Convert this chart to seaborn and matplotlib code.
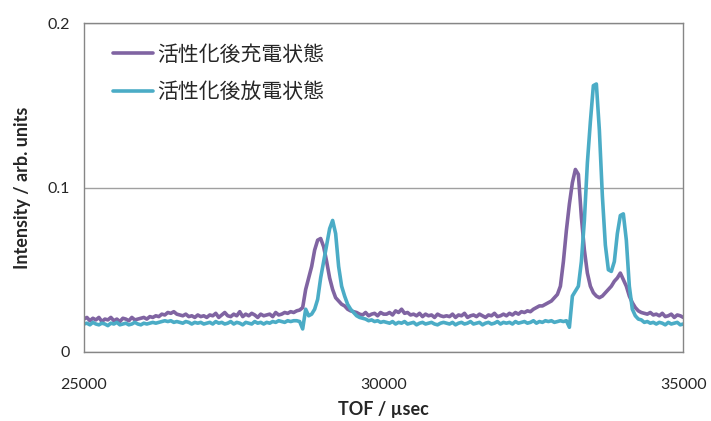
import numpy as np
import pandas as pd
import seaborn as sns
from matplotlib import pyplot as plt

# TOF grid, 50 usec steps
tof = list(range(25000, 35001, 50))

charged = [
    0.020, 0.021, 0.019, 0.0205, 0.0195, 0.021, 0.0185, 0.020, 0.0195, 0.021, 0.019,
    0.020, 0.0185, 0.0205, 0.020, 0.019, 0.021, 0.0195, 0.020, 0.0205, 0.021,
    0.020, 0.0215, 0.021, 0.022, 0.0215, 0.023, 0.0225, 0.024, 0.0235, 0.0245,
    0.023, 0.0225, 0.022, 0.023, 0.0215, 0.022, 0.021, 0.0225, 0.0215, 0.022,
    0.021, 0.0225, 0.022, 0.0235, 0.021, 0.0225, 0.024, 0.022, 0.0215, 0.023,
    0.022, 0.0245, 0.0215, 0.023, 0.022, 0.0235, 0.0225, 0.021, 0.023, 0.022,
    0.0225, 0.023, 0.0215, 0.024, 0.0225, 0.023, 0.024, 0.0235, 0.0245, 0.024,
    0.025, 0.0255, 0.027, 0.038, 0.045, 0.052, 0.062, 0.068, 0.069, 0.064,
    0.055, 0.045, 0.038, 0.033, 0.031, 0.029, 0.028, 0.026, 0.025, 0.0245,
    0.024, 0.023, 0.0225, 0.024, 0.022, 0.023, 0.0235, 0.022, 0.024, 0.023,
    0.023, 0.024, 0.0225, 0.025, 0.024, 0.026, 0.0235, 0.024, 0.0225, 0.023,
    0.022, 0.0235, 0.0215, 0.023, 0.022, 0.0225, 0.021, 0.023, 0.022, 0.0215,
    0.022, 0.0215, 0.023, 0.021, 0.0225, 0.022, 0.0235, 0.021, 0.022, 0.0225,
    0.0215, 0.023, 0.022, 0.021, 0.0225, 0.022, 0.0235, 0.0215, 0.022, 0.023,
    0.022, 0.0235, 0.0225, 0.024, 0.023, 0.0245, 0.024, 0.025, 0.0245, 0.026, 0.027, 0.028,
    0.028, 0.029, 0.030, 0.031, 0.033, 0.035, 0.040, 0.055,
    0.074, 0.090, 0.103, 0.111, 0.108, 0.082, 0.062, 0.048, 0.040, 0.036,
    0.034, 0.033, 0.034, 0.036, 0.038, 0.040, 0.043, 0.045, 0.048, 0.044,
    0.040, 0.034, 0.030, 0.027, 0.025, 0.024, 0.0235, 0.023, 0.024, 0.0225,
    0.023, 0.022, 0.0235, 0.0215, 0.022, 0.023, 0.021, 0.0225, 0.022, 0.021,
]

discharged = [
    0.017, 0.0175, 0.0165, 0.018, 0.017, 0.0165, 0.0175, 0.017, 0.016, 0.0175, 0.017,
    0.018, 0.0165, 0.017, 0.0175, 0.0165, 0.017, 0.018, 0.017, 0.0165, 0.0175,
    0.017, 0.0175, 0.018, 0.0175, 0.018, 0.0185, 0.019, 0.0185, 0.019, 0.018,
    0.0185, 0.018, 0.0175, 0.0185, 0.018, 0.017, 0.018, 0.0175, 0.018, 0.017,
    0.0175, 0.018, 0.017, 0.0185, 0.0175, 0.018, 0.017, 0.0175, 0.0185, 0.017,
    0.018, 0.0175, 0.0165, 0.018, 0.0175, 0.017, 0.0185, 0.0175, 0.018, 0.017,
    0.018, 0.0175, 0.0185, 0.018, 0.019, 0.0185, 0.018, 0.019, 0.0185, 0.019,
    0.019, 0.0185, 0.014, 0.026, 0.022, 0.023, 0.026, 0.032, 0.045, 0.055,
    0.065, 0.075, 0.080, 0.072, 0.052, 0.040, 0.034, 0.029, 0.026, 0.024,
    0.022, 0.021, 0.0205, 0.020, 0.019, 0.0195, 0.0185, 0.019, 0.018, 0.0185,
    0.018, 0.0175, 0.0185, 0.017, 0.018, 0.0175, 0.0185, 0.017, 0.0175, 0.018,
    0.0165, 0.0175, 0.018, 0.017, 0.0175, 0.018, 0.017, 0.0165, 0.0175, 0.018,
    0.0175, 0.017, 0.018, 0.0165, 0.0175, 0.018, 0.017, 0.0175, 0.0185, 0.017,
    0.0175, 0.018, 0.0165, 0.0175, 0.018, 0.017, 0.0175, 0.0185, 0.017, 0.018,
    0.0175, 0.018, 0.017, 0.0185, 0.0175, 0.018, 0.0185, 0.0175, 0.018, 0.019, 0.0175, 0.0185,
    0.018, 0.019, 0.0185, 0.019, 0.018, 0.0185, 0.019, 0.0185,
    0.019, 0.015, 0.034, 0.037, 0.040, 0.055, 0.080, 0.115, 0.140, 0.162,
    0.163, 0.135, 0.095, 0.065, 0.050, 0.049, 0.055, 0.072, 0.083, 0.084,
    0.068, 0.040, 0.026, 0.022, 0.020, 0.0195, 0.018, 0.0185, 0.0175, 0.018,
    0.017, 0.018, 0.0175, 0.0165, 0.018, 0.017, 0.0175, 0.018, 0.0165, 0.017,
]

labels = ['活性化後充電状態', '活性化後放電状態']
colors = ['#8064A2', '#4BACC6']

df = pd.concat([
    pd.DataFrame({'tof': tof, 'intensity': charged, 'state': labels[0]}),
    pd.DataFrame({'tof': tof, 'intensity': discharged, 'state': labels[1]}),
])

sns.set_theme(style="white")
plt.rcParams['font.family'] = ['Lato', 'Noto Sans CJK JP', 'DejaVu Sans']

fig = plt.figure(figsize=(7.11, 4.21), dpi=100)
ax = fig.add_axes([0.118, 0.164, 0.843, 0.781])
sns.lineplot(data=df, x='tof', y='intensity', hue='state', palette=colors,
             linewidth=2.6, ax=ax, legend=True)

ax.set_xlim(25000, 35000)
ax.set_ylim(0, 0.2)
ax.set_xticks([25000, 30000, 35000])
ax.set_yticks([0, 0.1, 0.2])
ax.set_yticklabels(['0', '0.1', '0.2'])
ax.yaxis.grid(True, color='#A0A0A0', linewidth=1)
ax.set_axisbelow(True)
for s in ax.spines.values():
    s.set_color('#868686')
    s.set_linewidth(1)
ax.tick_params(axis='x', direction='in', length=5, color='#868686', pad=19, labelsize=11.5)
ax.tick_params(axis='y', length=0, pad=10, labelsize=11.5)
ax.set_xlabel('TOF / µsec', fontsize=13, fontweight='bold', labelpad=6)
ax.set_ylabel('Intensity / arb. units', fontsize=13, fontweight='bold', labelpad=12)

ax.legend(loc='upper left', bbox_to_anchor=(0.017, 0.995), frameon=False,
          prop={'family': ['Noto Sans CJK JP'], 'size': 15}, handlelength=1.95,
          labelspacing=0.75, handletextpad=0.2)

fig.savefig('out.png', dpi=100)
